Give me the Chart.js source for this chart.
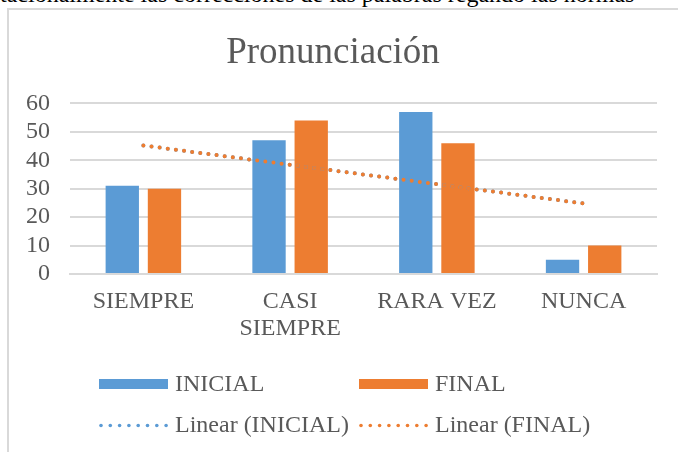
<!DOCTYPE html>
<html>
<head>
<meta charset="utf-8">
<script src="https://cdn.jsdelivr.net/npm/chart.js@4.4.1/dist/chart.umd.min.js"></script>
<style>
  html, body { margin: 0; padding: 0; background: #fff; overflow: hidden; }
  body { width: 678px; height: 452px; position: relative; }
  #docText {
    position: absolute; left: -12px; top: -19px; white-space: nowrap;
    font: 24px "Liberation Serif", "Times New Roman", serif; color: #000;
  }
  #frame {
    position: absolute; left: 7px; top: 8px; width: 680px; height: 450px;
    border-left: 2px solid #d9d9d9; border-top: 2px solid #d9d9d9;
    background: #fff;
  }
  #chartBox { position: absolute; left: 0; top: 0; width: 669px; height: 442px; }
</style>
</head>
<body>
<div id="docText">ntacionalmente las correcciones de las palabras regando las normas</div>
<div id="frame">
  <div id="chartBox"><canvas id="pronChart"></canvas></div>
</div>
<script>
// =====================
// Data
// =====================
const categories = ['SIEMPRE', ['CASI', 'SIEMPRE'], 'RARA VEZ', 'NUNCA'];
const inicialValues = [31, 47, 57, 5];
const finalValues = [30, 54, 46, 10];
// trend lines (Excel "Linear" trendline)
const trendInicial = [45.2, 38.4, 31.6, 24.8];
const trendFinal = [45.2, 38.4, 31.6, 24.8];
const yTicks = [0, 10, 20, 30, 40, 50, 60];

const BLUE = '#5b9bd5';
const ORANGE = '#ed7d31';
const TEXT = '#595959';
const GRID = '#d9d9d9';
const SERIF = '"Liberation Serif", "Times New Roman", serif';

// =====================
// Legend (Excel style two-column grid)
// =====================
const gridLegend = {
    id: 'gridLegend',
    afterDraw(chart) {
        const ctx = chart.ctx;
        const cols = [90, 350];
        const rows = [374, 414.5];
        const boxW = 69;
        ctx.save();
        ctx.font = '24px ' + SERIF;
        ctx.textBaseline = 'middle';
        chart.data.datasets.forEach((ds, i) => {
            const x = cols[i % 2];
            const y = rows[Math.floor(i / 2)];
            if (ds.type === 'line') {
                ctx.fillStyle = ds.borderColor;
                for (let k = 0; k < 8; k++) {
                    ctx.beginPath();
                    ctx.arc(x + 2 + k * 9.3, y + 1, 1.8, 0, Math.PI * 2);
                    ctx.fill();
                }
            } else {
                ctx.fillStyle = ds.backgroundColor;
                ctx.fillRect(x, y - 5, boxW, 10);
            }
            ctx.fillStyle = TEXT;
            ctx.fillText(ds.label, x + boxW + 7, y + 1);
        });
        ctx.restore();
    }
};

// =====================
// Chart
// =====================
function initChart() {
    const ctx = document.getElementById('pronChart').getContext('2d');
    new Chart(ctx, {
        data: {
            labels: categories,
            datasets: [
                { type: 'bar', label: 'INICIAL', data: inicialValues, backgroundColor: BLUE, order: 3 },
                { type: 'bar', label: 'FINAL', data: finalValues, backgroundColor: ORANGE, order: 3 },
                { type: 'line', label: 'Linear (INICIAL)', data: trendInicial, borderColor: BLUE,
                  borderWidth: 4, borderDash: [0, 8.2], borderCapStyle: 'round', pointRadius: 0, fill: false, order: 2 },
                { type: 'line', label: 'Linear (FINAL)', data: trendFinal, borderColor: ORANGE,
                  borderWidth: 4, borderDash: [0, 8.2], borderCapStyle: 'round', pointRadius: 0, fill: false, order: 1 }
            ]
        },
        options: {
            responsive: true,
            maintainAspectRatio: false,
            animation: false,
            datasets: { bar: { categoryPercentage: 0.575, barPercentage: 0.79 } },
            layout: { padding: { left: 0, right: 21, top: 0, bottom: 0 } },
            plugins: {
                legend: { display: false },
                tooltip: { enabled: false },
                title: {
                    display: true,
                    text: 'Pronunciación',
                    color: TEXT,
                    font: { family: SERIF, size: 37, weight: 'normal' },
                    padding: { top: 21, bottom: 28 }
                }
            },
            scales: {
                x: {
                    grid: { display: false, drawTicks: false },
                    border: { display: true, color: GRID, width: 2 },
                    ticks: { color: TEXT, font: { family: SERIF, size: 24, lineHeight: 1.1 }, padding: 15, maxRotation: 0, autoSkip: false },
                    afterFit(scale) { scale.height = 178; }
                },
                y: {
                    min: 0, max: 60,
                    afterBuildTicks(scale) { scale.ticks = yTicks.map(v => ({ value: v })); },
                    grid: { color: GRID, lineWidth: 2, drawTicks: false },
                    border: { display: false },
                    ticks: { color: TEXT, font: { family: SERIF, size: 24 }, padding: 20, autoSkip: false, stepSize: 10 },
                    afterFit(scale) { scale.width = 61; }
                }
            }
        },
        plugins: [gridLegend]
    });
}

window.onload = initChart;
</script>
</body>
</html>
